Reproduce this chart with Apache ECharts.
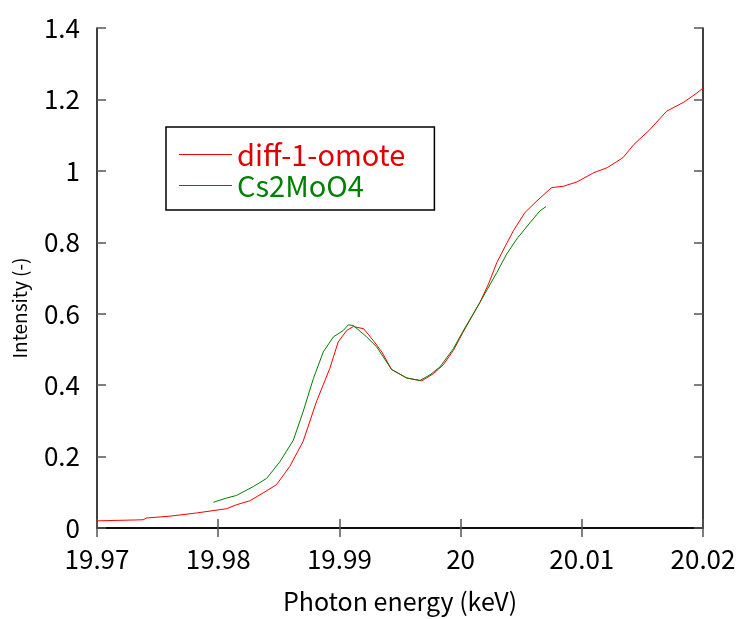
<!DOCTYPE html>
<html><head><meta charset="utf-8">
<script src="https://cdn.jsdelivr.net/npm/echarts@6/dist/echarts.min.js"></script>
<style>html,body{margin:0;padding:0;background:#fff}#c{width:739px;height:619px}</style>
</head><body><div id="c"></div>
<script>
var seriesNames = ['diff-1-omote', 'Cs2MoO4'];
var redEnergy = [19.97, 19.9738, 19.9741, 19.9760, 19.9782, 19.9807, 19.9815, 19.9826, 19.9837, 19.9848, 19.9859, 19.9870, 19.9881, 19.9892, 19.9899, 19.9906, 19.99115, 19.9920, 19.9928, 19.9935, 19.9943, 19.99555, 19.9968, 19.99775, 19.99857, 19.9994, 20.0002, 20.0009, 20.0016, 20.0023, 20.0030, 20.0037, 20.00435, 20.0053, 20.0063, 20.0075, 20.0085, 20.0096, 20.0110, 20.0121, 20.0134, 20.0143, 20.0156, 20.0170, 20.0184, 20.0195, 20.02];
var redIntensity = [0.020, 0.023, 0.028, 0.033, 0.042, 0.054, 0.065, 0.076, 0.098, 0.121, 0.172, 0.242, 0.353, 0.446, 0.521, 0.553, 0.564, 0.558, 0.525, 0.493, 0.444, 0.420, 0.412, 0.432, 0.457, 0.497, 0.548, 0.590, 0.632, 0.683, 0.744, 0.790, 0.832, 0.883, 0.916, 0.953, 0.957, 0.969, 0.995, 1.009, 1.037, 1.074, 1.115, 1.167, 1.192, 1.218, 1.232];
var greenEnergy = [19.9796, 19.9807, 19.9815, 19.9829, 19.9840, 19.9851, 19.9862, 19.9870, 19.98785, 19.98867, 19.9895, 19.99032, 19.99074, 19.99115, 19.99225, 19.99308, 19.9943, 19.99555, 19.99665, 19.99748, 19.9983, 19.9994, 20.0002, 20.0016, 20.0030, 20.0038, 20.00463, 20.00573, 20.00655, 20.00705];
var greenIntensity = [0.072, 0.084, 0.091, 0.116, 0.139, 0.186, 0.246, 0.325, 0.418, 0.493, 0.535, 0.553, 0.569, 0.567, 0.535, 0.507, 0.444, 0.420, 0.413, 0.429, 0.451, 0.502, 0.551, 0.632, 0.716, 0.767, 0.809, 0.855, 0.888, 0.900];
var xTitle = 'Photon energy (keV)';
var yTitle = 'Intensity (-)';

function zip(a, b) { return a.map(function (v, i) { return [v, b[i]]; }); }
var FONT = '"Noto Sans CJK JP", "DejaVu Sans", sans-serif';
var chart = echarts.init(document.getElementById('c'), null, { renderer: 'canvas' });
var axisLine = { show: true, lineStyle: { color: '#000', width: 1.5 } };
var tick = { show: true, inside: true, length: 9, lineStyle: { color: '#555', width: 1.5 } };
chart.setOption({
  animation: false,
  backgroundColor: '#fff',
  grid: { left: 97, top: 28, right: 36, bottom: 89, containLabel: false },
  legend: {
    orient: 'vertical', left: 166, top: 127,
    padding: [13, 29, 10, 13], itemGap: 2,
    itemWidth: 53, itemHeight: 10,
    borderColor: '#000', borderWidth: 1.5, backgroundColor: '#fff',
    textStyle: { fontFamily: FONT, fontSize: 29 },
    data: [
      { name: seriesNames[0], icon: 'path://M0,0L10,0L10,0.18L0,0.18Z', textStyle: { color: '#e00000' } },
      { name: seriesNames[1], icon: 'path://M0,0L10,0L10,0.18L0,0.18Z', textStyle: { color: '#008000' } }
    ]
  },
  xAxis: [{
    type: 'value', min: 19.97, max: 20.02, interval: 0.01,
    name: xTitle, nameLocation: 'middle', nameGap: 61,
    nameTextStyle: { fontFamily: FONT, fontSize: 25, color: '#000' },
    axisLine: axisLine, axisTick: tick, splitLine: { show: false },
    axisLabel: { fontFamily: FONT, fontSize: 26, color: '#000', margin: 18,
      formatter: function (v) { return String(+v.toFixed(2)); } }
  }, {
    type: 'value', position: 'top', min: 19.97, max: 20.02, interval: 0.01,
    axisLine: axisLine, axisTick: tick, axisLabel: { show: false }, splitLine: { show: false }
  }],
  yAxis: [{
    type: 'value', min: 0, max: 1.4, interval: 0.2,
    name: yTitle, nameLocation: 'middle', nameGap: 68, nameRotate: 90,
    nameTextStyle: { fontFamily: FONT, fontSize: 19, color: '#000', padding: [0, 60, 0, 0] },
    axisLine: axisLine, axisTick: tick, splitLine: { show: false },
    axisLabel: { fontFamily: FONT, fontSize: 26, color: '#000', margin: 17,
      formatter: function (v) { return String(+v.toFixed(1)); } }
  }, {
    type: 'value', position: 'right', min: 0, max: 1.4, interval: 0.2,
    axisLine: axisLine, axisTick: tick, axisLabel: { show: false }, splitLine: { show: false }
  }],
  series: [{
    name: seriesNames[0], type: 'line', data: zip(redEnergy, redIntensity),
    showSymbol: false, symbol: 'none', color: '#ff0000', lineStyle: { color: '#ff0000', width: 1 }, z: 3
  }, {
    name: seriesNames[1], type: 'line', data: zip(greenEnergy, greenIntensity),
    showSymbol: false, symbol: 'none', color: '#008000', lineStyle: { color: '#008000', width: 1 }, z: 4
  }]
});
</script></body></html>
